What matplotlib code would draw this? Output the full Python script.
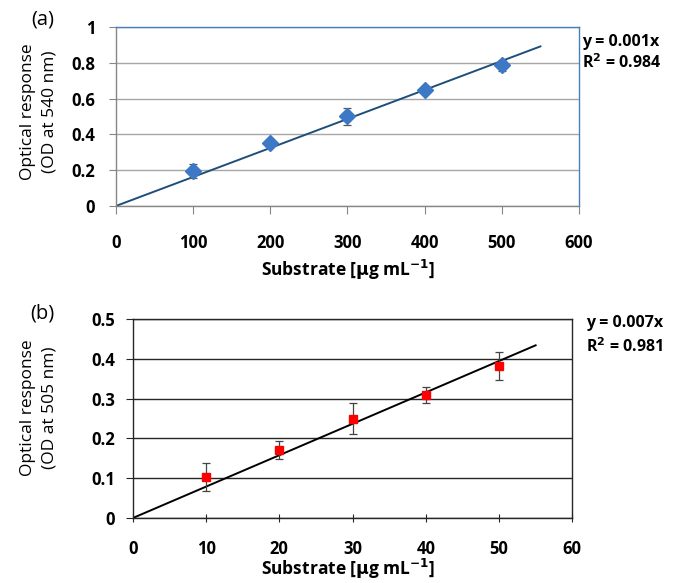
import numpy as np
import matplotlib
matplotlib.use("Agg")
import matplotlib.pyplot as plt

plt.rcParams["font.family"] = ["Open Sans", "DejaVu Sans"]

# ── data: panel (a) ─────────────────────────────────────────────────────────
sub_a = [100, 200, 300, 400, 500]
od_a = [0.195, 0.352, 0.500, 0.648, 0.785]
err_a = [0.040, 0.022, 0.045, 0.020, 0.030]
xticks_a = [0, 100, 200, 300, 400, 500, 600]
yticks_a = [0, 0.2, 0.4, 0.6, 0.8, 1]
ytlabels_a = ["0", "0.2", "0.4", "0.6", "0.8", "1"]

# ── data: panel (b) ─────────────────────────────────────────────────────────
sub_b = [10, 20, 30, 40, 50]
od_b = [0.102, 0.170, 0.250, 0.308, 0.383]
err_b = [0.035, 0.023, 0.038, 0.020, 0.035]
xticks_b = [0, 10, 20, 30, 40, 50, 60]
yticks_b = [0, 0.1, 0.2, 0.3, 0.4, 0.5]
ytlabels_b = ["0", "0.1", "0.2", "0.3", "0.4", "0.5"]

XLABEL = r"Substrate [$\mathbf{\mu}$g mL$^{\mathbf{-1}}$]"
TICK_FS = 12
LABEL_FS = 12.5


def fit_origin(x, y):
    """Least squares slope for a line forced through zero."""
    x = np.asarray(x, float)
    y = np.asarray(y, float)
    return (x * y).sum() / (x * x).sum()


def style_axes(ax, grid_col, frame_col, axis_col, xtick_dir, xpad, ypad):
    ax.set_axisbelow(True)
    ax.yaxis.grid(True, color=grid_col, lw=1.0)
    ax.xaxis.grid(False)
    for s in ("top", "right"):
        ax.spines[s].set_color(frame_col)
    for s in ("left", "bottom"):
        ax.spines[s].set_color(axis_col)
    for s in ax.spines.values():
        s.set_linewidth(1.0)
    ax.tick_params(axis="x", direction=xtick_dir, length=6, color=axis_col,
                   labelsize=TICK_FS, pad=xpad)
    ax.tick_params(axis="y", direction="out", length=5, color=axis_col,
                   labelsize=TICK_FS, pad=ypad)
    for lab in ax.get_xticklabels() + ax.get_yticklabels():
        lab.set_fontweight("bold")


fig = plt.figure(figsize=(6.78, 5.83), dpi=100)

# ── panel (a) ───────────────────────────────────────────────────────────────
ax1 = fig.add_axes([0.171, 0.6467, 0.683, 0.307])
k_a = fit_origin(sub_a, od_a)
xx = np.array([0, 550])
ax1.plot(xx, k_a * xx, color="#1f4e79", lw=1.4, zorder=2)
ax1.errorbar(sub_a, od_a, yerr=err_a, fmt="D", ms=8, color="#3d78c6",
             mec="#3d78c6", ecolor="#555555", elinewidth=0.9, capsize=3,
             capthick=0.9, zorder=3)
ax1.set_xlim(0, 600)
ax1.set_ylim(0, 1)
ax1.set_xticks(xticks_a)
ax1.set_yticks(yticks_a)
ax1.set_yticklabels(ytlabels_a)
style_axes(ax1, "#a6a6a6", "#4a7ebb", "#868686", "out", 14, 10)
fig.text(0.0575, 0.808, "Optical response\n(OD at 540 nm)", fontsize=LABEL_FS,
         rotation=90, ha="center", va="center", linespacing=1.45)
fig.text(0.513, 0.537, XLABEL, fontsize=LABEL_FS, fontweight="bold",
         ha="center", va="center")
fig.text(0.063, 0.966, "(a)", fontsize=14.5, ha="center", va="center")
fig.text(0.858, 0.928, "y = 0.001x", fontsize=11.5, fontweight="bold",
         ha="left", va="center")
fig.text(0.858, 0.892, "R$^{\\mathbf{2}}$ = 0.984", fontsize=11.5,
         fontweight="bold", ha="left", va="center")

# ── panel (b) ───────────────────────────────────────────────────────────────
ax2 = fig.add_axes([0.196, 0.1115, 0.648, 0.3413])
k_b = fit_origin(sub_b, od_b)
xx = np.array([0, 55])
ax2.plot(xx, k_b * xx, color="black", lw=1.4, zorder=2)
ax2.errorbar(sub_b, od_b, yerr=err_b, fmt="s", ms=5.5, color="#ff0000",
             mec="#ff0000", ecolor="#444444", elinewidth=0.9, capsize=3,
             capthick=0.9, zorder=3)
ax2.set_xlim(0, 60)
ax2.set_ylim(0, 0.5)
ax2.set_xticks(xticks_b)
ax2.set_yticks(yticks_b)
ax2.set_yticklabels(ytlabels_b)
style_axes(ax2, "#262626", "#262626", "#262626", "inout", 13, 8)
fig.text(0.0575, 0.300, "Optical response\n(OD at 505 nm)", fontsize=LABEL_FS,
         rotation=90, ha="center", va="center", linespacing=1.45)
fig.text(0.513, 0.024, XLABEL, fontsize=LABEL_FS, fontweight="bold",
         ha="center", va="center")
fig.text(0.063, 0.463, "(b)", fontsize=14.5, ha="center", va="center")
fig.text(0.864, 0.446, "y = 0.007x", fontsize=11.5, fontweight="bold",
         ha="left", va="center")
fig.text(0.864, 0.405, "R$^{\\mathbf{2}}$ = 0.981", fontsize=11.5,
         fontweight="bold", ha="left", va="center")

fig.savefig("out.png", dpi=100)
